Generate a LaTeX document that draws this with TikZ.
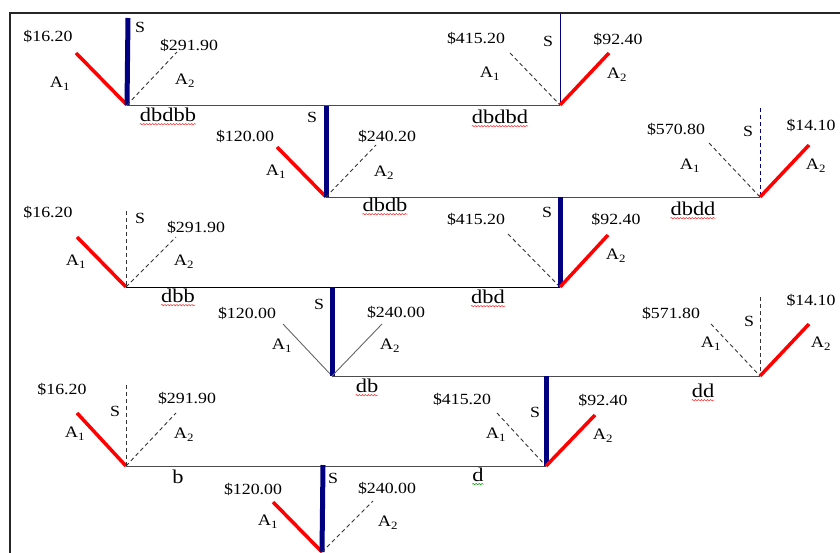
\documentclass[tikz,border=0pt]{standalone}
\usepackage{fontspec}
\setmainfont[FakeStretch=1.15]{Liberation Serif}
\usetikzlibrary{decorations.pathmorphing}
\definecolor{navy}{RGB}{0,0,128}

\begin{document}
\begin{tikzpicture}[
    x=1pt, y=-1pt,
    price/.style={font=\fontsize{15.5}{17}\selectfont, inner sep=1pt},
    act/.style={font=\fontsize{16}{18}\selectfont, inner sep=1pt},
    pathname/.style={font=\fontsize{19.5}{22}\selectfont, inner sep=1pt},
    track/.style={draw=black!70, line width=1pt},
    chosen/.style={draw=red, line width=3.5pt},
    stay/.style={draw=navy, line width=5pt},
    staythin/.style={draw=navy, line width=0.9pt},
    staydashed/.style={draw=navy, line width=0.9pt, dash pattern=on 4pt off 3pt},
    idle/.style={draw=black!80, line width=0.9pt, dash pattern=on 4pt off 3pt},
    faint/.style={draw=black!60, line width=0.9pt},
    wavy/.style={draw=red!85, line width=0.5pt, decorate,
        decoration={snake, segment length=3pt, amplitude=0.7pt}},
]
\useasboundingbox (0,0) rectangle (840,552);

% frame
\coordinate (fbl) at (10,553);
\coordinate (ftl) at (10,13);
\coordinate (ftr) at (841,13);
\draw[line width=2pt, black!85] (fbl) -- (ftl) -- (ftr);

% decision points
\coordinate (v1) at (127,105);
\coordinate (v2) at (560,105);
\coordinate (v3) at (326,197);
\coordinate (v4) at (760,197);
\coordinate (v5) at (126,287);
\coordinate (v6) at (560,287);
\coordinate (v7) at (332,376);
\coordinate (v8) at (760,376);
\coordinate (v9) at (126,466);
\coordinate (v10) at (546,466);
\coordinate (v11) at (322,552);

% branch ends
\coordinate (v1a1) at (76,53);   \coordinate (v1s) at (128,18);  \coordinate (v1a2) at (177,52);
\coordinate (v2a1) at (510,53);  \coordinate (v2s) at (560,14);  \coordinate (v2a2) at (609,53);
\coordinate (v3a1) at (277,147); \coordinate (v3s) at (326,106); \coordinate (v3a2) at (376,145);
\coordinate (v4a1) at (709,143); \coordinate (v4s) at (760,108); \coordinate (v4a2) at (809,145);
\coordinate (v5a1) at (77,237);  \coordinate (v5s) at (126,211); \coordinate (v5a2) at (176,237);
\coordinate (v6a1) at (508,234); \coordinate (v6s) at (560,197); \coordinate (v6a2) at (608,235);
\coordinate (v7a1) at (283,324); \coordinate (v7s) at (332,287); \coordinate (v7a2) at (382,324);
\coordinate (v8a1) at (711,324); \coordinate (v8s) at (760,297); \coordinate (v8a2) at (809,324);
\coordinate (v9a1) at (77,413);  \coordinate (v9s) at (126,385); \coordinate (v9a2) at (176,413);
\coordinate (v10a1) at (497,413); \coordinate (v10s) at (546,376); \coordinate (v10a2) at (595,415);
\coordinate (v11a1) at (273,502); \coordinate (v11s) at (323,465); \coordinate (v11a2) at (373,501);

% tracks
\draw[track] (v1) -- (v2);
\draw[track] (v3) -- (v4);
\draw[track, draw=black] (v5) -- (v6);
\draw[track] (v7) -- (v8);
\draw[track] (v9) -- (v10);

% branches
\draw[chosen] (v1a1) -- (v1);  \draw[stay] (v1s) -- (v1);        \draw[idle] (v1) -- (v1a2);
\draw[idle] (v2a1) -- (v2);    \draw[staythin] (v2s) -- (v2);    \draw[chosen] (v2) -- (v2a2);
\draw[chosen] (v3a1) -- (v3);  \draw[stay] (v3s) -- (v3);        \draw[idle] (v3) -- (v3a2);
\draw[idle] (v4a1) -- (v4);    \draw[staydashed] (v4s) -- (v4);  \draw[chosen] (v4) -- (v4a2);
\draw[chosen] (v5a1) -- (v5);  \draw[idle] (v5s) -- (v5);        \draw[idle] (v5) -- (v5a2);
\draw[idle] (v6a1) -- (v6);    \draw[stay] (v6s) -- (v6);        \draw[chosen] (v6) -- (v6a2);
\draw[faint] (v7a1) -- (v7);   \draw[stay] (v7s) -- (v7);        \draw[faint] (v7) -- (v7a2);
\draw[idle] (v8a1) -- (v8);    \draw[idle] (v8s) -- (v8);        \draw[chosen] (v8) -- (v8a2);
\draw[chosen] (v9a1) -- (v9);  \draw[idle] (v9s) -- (v9);        \draw[idle] (v9) -- (v9a2);
\draw[idle] (v10a1) -- (v10);  \draw[stay] (v10s) -- (v10);      \draw[chosen] (v10) -- (v10a2);
\draw[chosen] (v11a1) -- (v11); \draw[stay] (v11s) -- (v11);     \draw[idle] (v11) -- (v11a2);

% labels
\node[price] (v1p1) at (48,36) {\$16.20};
\node[act] (v1t1) at (60,84) {A\textsubscript{1}};
\node[price] (v1ts) at (140,27) {S};
\node[price] (v1p2) at (189,45) {\$291.90};
\node[act] (v1t2) at (185,81) {A\textsubscript{2}};

\node[price] (v2p1) at (476,38) {\$415.20};
\node[price] (v2ts) at (548,41) {S};
\node[act] (v2t1) at (490,74) {A\textsubscript{1}};
\node[price] (v2p2) at (618,39) {\$92.40};
\node[act] (v2t2) at (617,75) {A\textsubscript{2}};

\node[price] (v3ts) at (312,117) {S};
\node[price] (v3p1) at (245,136) {\$120.00};
\node[act] (v3t1) at (276,172) {A\textsubscript{1}};
\node[price] (v3p2) at (387,136) {\$240.20};
\node[act] (v3t2) at (384,173) {A\textsubscript{2}};

\node[price] (v4p1) at (676,129) {\$570.80};
\node[price] (v4ts) at (748,131) {S};
\node[price] (v4p2) at (811,125) {\$14.10};
\node[act] (v4t1) at (690,166) {A\textsubscript{1}};
\node[act] (v4t2) at (816,166) {A\textsubscript{2}};

\node[price] (v5p1) at (48,212) {\$16.20};
\node[price] (v5ts) at (140,218) {S};
\node[price] (v5p2) at (196,227) {\$291.90};
\node[act] (v5t1) at (76,262) {A\textsubscript{1}};
\node[act] (v5t2) at (184,262) {A\textsubscript{2}};

\node[price] (v6p1) at (476,219) {\$415.20};
\node[price] (v6ts) at (547,212) {S};
\node[price] (v6p2) at (616,219) {\$92.40};
\node[act] (v6t2) at (616,256) {A\textsubscript{2}};

\node[price] (v7ts) at (319,304) {S};
\node[price] (v7p1) at (247,313) {\$120.00};
\node[act] (v7t1) at (282,346) {A\textsubscript{1}};
\node[price] (v7p2) at (396,312) {\$240.00};
\node[act] (v7t2) at (390,346) {A\textsubscript{2}};

\node[price] (v8p1) at (671,313) {\$571.80};
\node[price] (v8ts) at (749,321) {S};
\node[price] (v8p2) at (811,300) {\$14.10};
\node[act] (v8t1) at (711,344) {A\textsubscript{1}};
\node[act] (v8t2) at (821,344) {A\textsubscript{2}};

\node[price] (v9p1) at (62,389) {\$16.20};
\node[price] (v9ts) at (115,411) {S};
\node[price] (v9p2) at (187,398) {\$291.90};
\node[act] (v9t1) at (75,434) {A\textsubscript{1}};
\node[act] (v9t2) at (184,435) {A\textsubscript{2}};

\node[price] (v10p1) at (462,399) {\$415.20};
\node[price] (v10ts) at (535,412) {S};
\node[act] (v10t1) at (496,435) {A\textsubscript{1}};
\node[price] (v10p2) at (603,400) {\$92.40};
\node[act] (v10t2) at (603,436) {A\textsubscript{2}};

\node[price] (v11ts) at (333,478) {S};
\node[price] (v11p1) at (253,489) {\$120.00};
\node[price] (v11p2) at (387,488) {\$240.00};
\node[act] (v11t1) at (268,522) {A\textsubscript{1}};
\node[act] (v11t2) at (388,523) {A\textsubscript{2}};

% path names
\node[pathname] (n1) at (168,115) {dbdbb};
\node[pathname] (n2) at (500,117) {dbdbd};
\node[pathname] (n3) at (385,205) {dbdb};
\node[pathname] (n4) at (693,209) {dbdd};
\node[pathname] (n5) at (178,296) {dbb};
\node[pathname] (n6) at (488,297) {dbd};
\node[pathname] (n7) at (367,386) {db};
\node[pathname] (n8) at (703,391) {dd};
\node[pathname] (n9) at (178,477) {b};
\node[pathname] (n10) at (478,475) {d};

\foreach \n in {n1,n2,n3,n4,n5,n6,n7,n8}
    \draw[wavy] ([xshift=1pt,yshift=-2.5pt]\n.base west) -- ([xshift=-1pt,yshift=-2.5pt]\n.base east);
\draw[wavy, draw=green!60!black] ([xshift=1pt,yshift=-2.5pt]n10.base west) -- ([xshift=-1pt,yshift=-2.5pt]n10.base east);

\end{tikzpicture}
\end{document}
